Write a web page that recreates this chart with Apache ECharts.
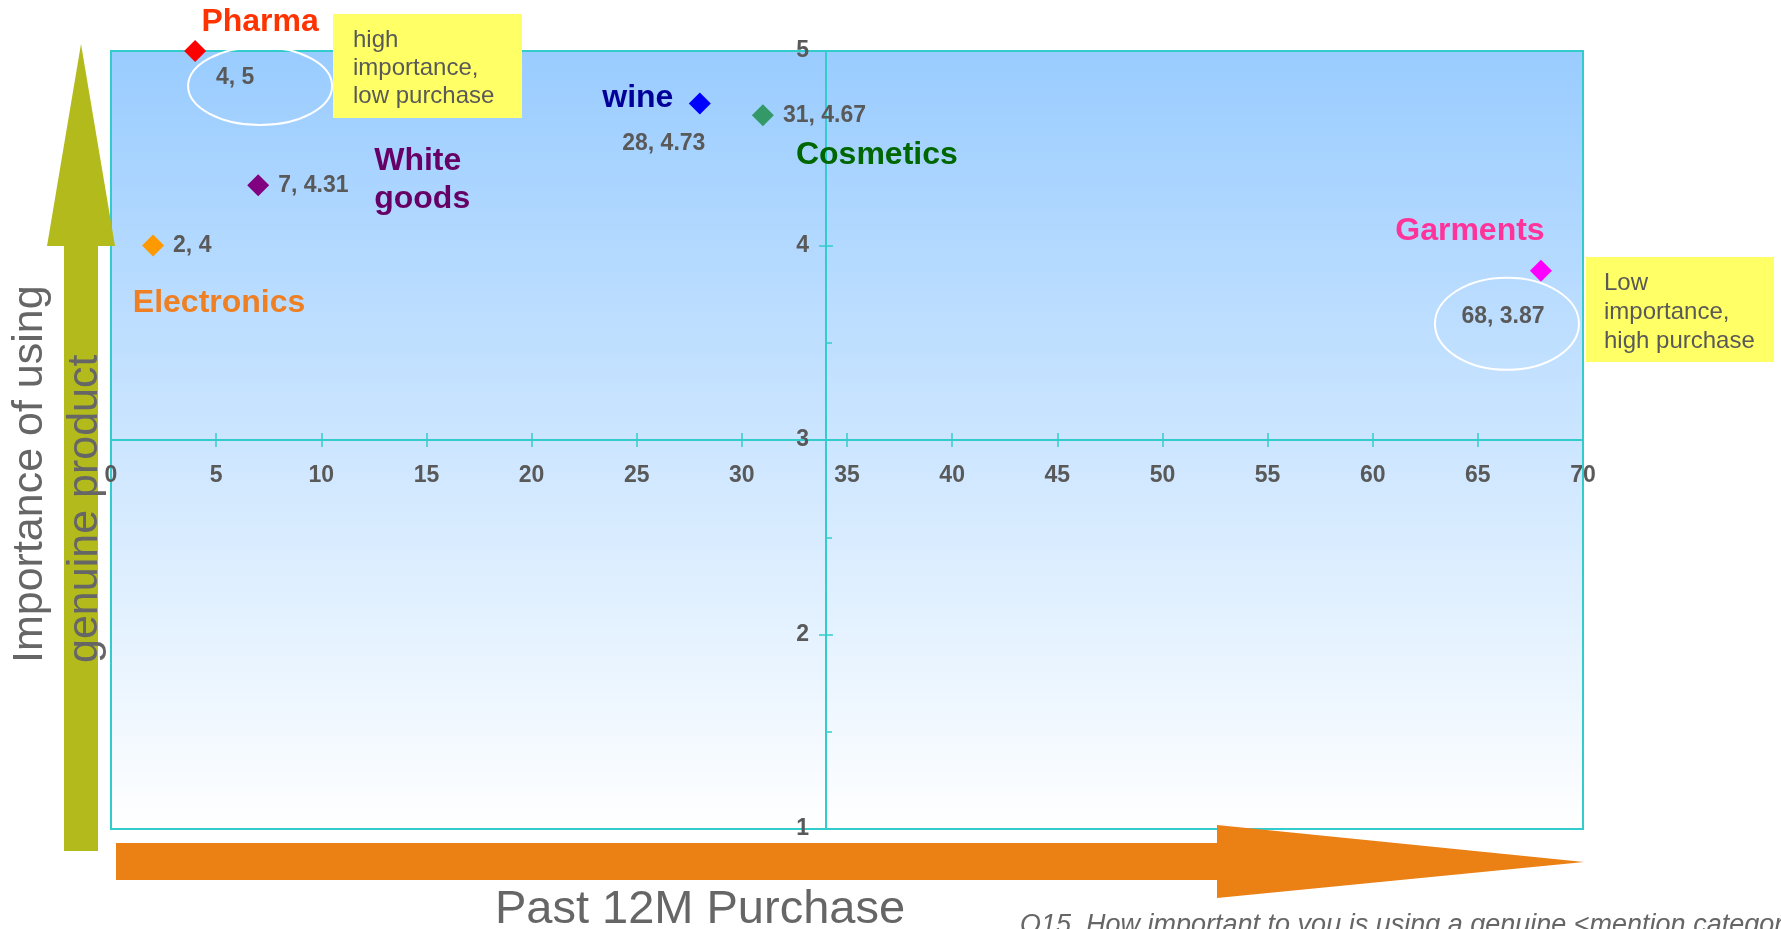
<!DOCTYPE html>
<html>
<head>
<meta charset="utf-8">
<title>Importance vs past 12M purchase</title>
<script src="https://cdn.jsdelivr.net/npm/echarts@6/dist/echarts.min.js"></script>
<style>
  html, body { margin: 0; padding: 0; background: #fff; }
  #chart { width: 1781px; height: 929px; }
</style>
</head>
<body>
<div id="chart"></div>
<script>
// data
const categories = ["Pharma", "Electronics", "White goods", "wine", "Cosmetics", "Garments"];
const purchase = [4, 2, 7, 28, 31, 68];
const importance = [5, 4, 4.31, 4.73, 4.67, 3.87];

// axes: range, step and the point where the two axes cross
const xRange = [0, 70];
const xStep = 5;
const yRange = [1, 5];
const yStep = 1;
const axisCross = [34, 3];

// styling
const FONT = "'Liberation Sans', Arial, sans-serif";
const CYAN = "#33CCCC";
const GREY = "#595959";
const GRID = { left: 111, top: 51, width: 1472, height: 778 };
const markerColors = ["#FF0000", "#FF9900", "#800080", "#0000FF", "#339966", "#FF00FF"];
const nameColors = ["#FF3300", "#EE7F22", "#660066", "#000099", "#006600", "#FF3399"];
const nameOffsets = [[65, -29], [66, 58], [116, -5], [-62, -5], [114, 40], [-71, -40]];
const valueOffsets = [[40, 27], null, null, [-36, 40], null, [-38, 46]];
// white rings round two of the value labels (relative to the point)
const rings = [
  { idx: 0, dx: 65, dy: 35, rx: 72, ry: 39 },
  { idx: 5, dx: -34, dy: 53, rx: 72, ry: 46 }
];

const chart = echarts.init(document.getElementById("chart"));

const tickStyle = { color: CYAN, width: 1.5 };
const lineStyle = { color: CYAN, width: 2 };

const xBase = {
  type: "value", min: xRange[0], max: xRange[1], interval: xStep, position: "bottom",
  axisLine: { show: true, onZero: false, lineStyle: lineStyle },
  splitLine: { show: false }
};
const yBase = {
  type: "value", min: yRange[0], max: yRange[1], interval: yStep, position: "left",
  axisLine: { show: true, onZero: false, lineStyle: lineStyle },
  splitLine: { show: false }
};
const tickLabel = { color: GREY, fontSize: 23, fontWeight: "bold", fontFamily: FONT };

const valuePoints = categories.map((name, i) => ({
  name: name,
  value: [purchase[i], importance[i]],
  itemStyle: { color: markerColors[i], opacity: 1 },
  label: valueOffsets[i]
    ? { position: "inside", offset: valueOffsets[i] }
    : { position: "right", distance: 9 }
}));

const namePoints = categories.map((name, i) => ({
  name: name,
  value: [purchase[i], importance[i]],
  label: {
    color: nameColors[i],
    offset: nameOffsets[i],
    align: name.indexOf(" ") > 0 ? "left" : "center"
  }
}));

chart.setOption({
  animation: false,
  grid: {
    left: GRID.left, top: GRID.top, width: GRID.width, height: GRID.height,
    containLabel: false, outerBoundsMode: "none",
    show: true, borderColor: CYAN, borderWidth: 2,
    backgroundColor: new echarts.graphic.LinearGradient(0, 0, 0, 1, [
      { offset: 0, color: "#99CCFF" },
      { offset: 1, color: "#FFFFFF" }
    ])
  },
  xAxis: [
    Object.assign({}, xBase, {
      axisTick: { show: true, inside: false, length: 7, lineStyle: tickStyle },
      axisLabel: Object.assign({ show: true, margin: 24 }, tickLabel)
    }),
    Object.assign({}, xBase, {
      axisTick: { show: true, inside: true, length: 7, lineStyle: tickStyle },
      axisLabel: { show: false }
    })
  ],
  yAxis: [
    Object.assign({}, yBase, {
      axisTick: { show: true, inside: false, length: 7, lineStyle: tickStyle },
      axisLabel: Object.assign({ show: true, margin: 17 }, tickLabel)
    }),
    Object.assign({}, yBase, {
      axisTick: { show: true, inside: true, length: 7, lineStyle: tickStyle },
      minorTick: { show: true, splitNumber: 2, length: 6, lineStyle: tickStyle },
      axisLabel: { show: false }
    })
  ],
  series: [
    {
      type: "scatter",
      clip: false,
      z: 4,
      symbol: "diamond",
      symbolSize: 22,
      data: valuePoints,
      label: {
        show: true,
        formatter: (p) => p.value[0] + ", " + p.value[1],
        color: GREY, fontSize: 23, fontWeight: "bold", fontFamily: FONT
      }
    },
    {
      type: "scatter",
      clip: false,
      silent: true,
      z: 5,
      symbolSize: 1,
      itemStyle: { color: "rgba(0,0,0,0)" },
      data: namePoints,
      label: {
        show: true,
        position: "inside",
        opacity: 1,
        formatter: (p) => p.name.replace(" ", "\n"),
        fontSize: 32, fontWeight: "bold", fontFamily: FONT, lineHeight: 38.5
      }
    }
  ]
});

// move the axes to the crossing point
const cross = chart.convertToPixel({ gridIndex: 0 }, axisCross);
const xOff = cross[1] - (GRID.top + GRID.height);
const yOff = GRID.left - cross[0];

const ringEls = rings.map((r) => {
  const p = chart.convertToPixel({ gridIndex: 0 }, [purchase[r.idx], importance[r.idx]]);
  return {
    type: "ellipse", z: 10, silent: true,
    shape: { cx: p[0] + r.dx, cy: p[1] + r.dy, rx: r.rx, ry: r.ry },
    style: { fill: "none", stroke: "#FFFFFF", lineWidth: 2 }
  };
});

chart.setOption({
  xAxis: [{ offset: xOff }, { offset: xOff }],
  yAxis: [{ offset: yOff }, { offset: yOff }],
  graphic: [
    // up arrow
    {
      type: "polygon", z: 1, silent: true,
      shape: { points: [[81, 44], [115, 246], [98, 246], [98, 851], [64, 851], [64, 246], [47, 246]] },
      style: { fill: "#B3BB1C" }
    },
    // right arrow
    {
      type: "polygon", z: 1, silent: true,
      shape: { points: [[116, 843], [1217, 843], [1217, 825], [1584, 862], [1217, 898], [1217, 880], [116, 880]] },
      style: { fill: "#EB8015" }
    },
    {
      type: "text", z: 6, x: 30, y: 663, rotation: Math.PI / 2,
      style: { text: "Importance of using", font: "43px " + FONT, fill: "#666666", textAlign: "left", textVerticalAlign: "middle" }
    },
    {
      type: "text", z: 6, x: 85, y: 663, rotation: Math.PI / 2,
      style: { text: "genuine product", font: "43px " + FONT, fill: "#666666", textAlign: "left", textVerticalAlign: "middle" }
    },
    {
      type: "text", z: 6, x: 700, y: 910,
      style: { text: "Past 12M Purchase", font: "47px " + FONT, fill: "#666666", textAlign: "center", textVerticalAlign: "middle" }
    },
    {
      type: "text", z: 6, x: 1020, y: 925,
      style: { text: "Q15. How important to you is using a genuine <mention category> product?", font: "italic 27px " + FONT, fill: "#666666", textAlign: "left", textVerticalAlign: "middle" }
    },
    // yellow notes
    {
      type: "rect", z: 6, silent: true,
      shape: { x: 333, y: 14, width: 189, height: 104 },
      style: { fill: "#FFFF66" }
    },
    {
      type: "text", z: 7, x: 353, y: 26,
      style: { text: "high\nimportance,\nlow purchase", font: "24px " + FONT, lineHeight: 28, fill: GREY, textAlign: "left", textVerticalAlign: "top" }
    },
    {
      type: "rect", z: 6, silent: true,
      shape: { x: 1586, y: 257, width: 188, height: 105 },
      style: { fill: "#FFFF66" }
    },
    {
      type: "text", z: 7, x: 1604, y: 269,
      style: { text: "Low\nimportance,\nhigh purchase", font: "24px " + FONT, lineHeight: 29, fill: GREY, textAlign: "left", textVerticalAlign: "top" }
    }
  ].concat(ringEls)
});
</script>
</body>
</html>
